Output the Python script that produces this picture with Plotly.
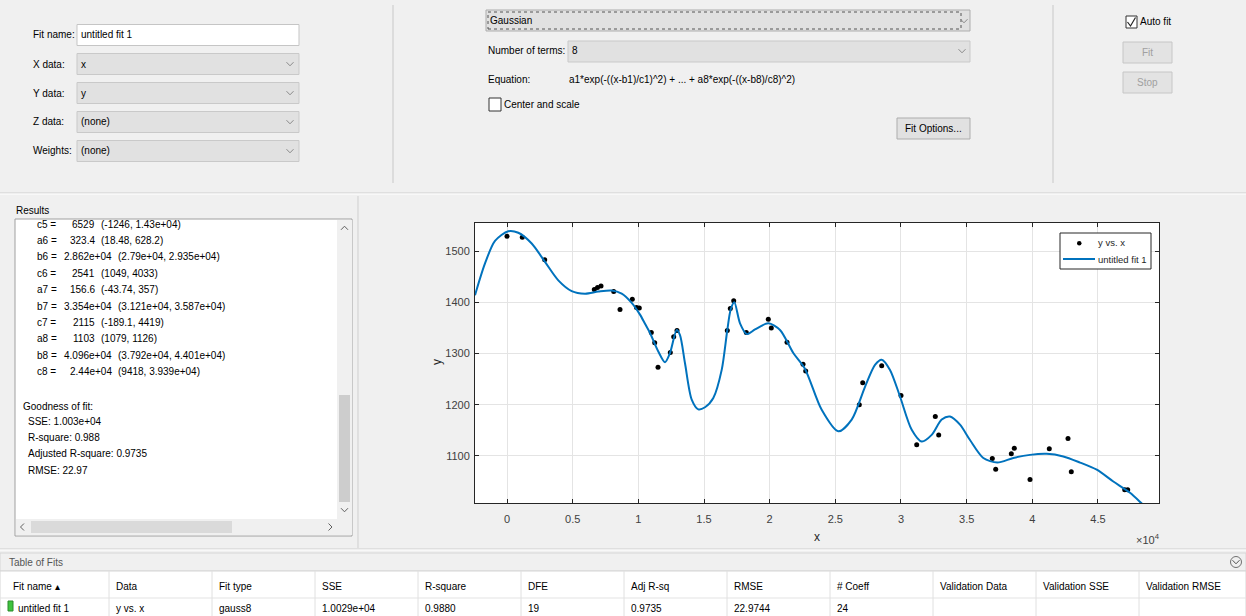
import plotly.graph_objects as go

# ---------------- data ----------------
data_x = [0, 1165, 2871, 6647, 6891, 7158, 8125, 8604, 9541, 9861, 10074,
          10988, 11247, 11498, 12434, 12693, 12945, 16775, 17003, 17262, 18222,
          19896, 20125, 21320, 22539, 22744, 26826, 27085, 28531, 30001, 31196,
          32613, 32871, 36953, 37212, 38400, 38628, 39823, 41293, 42717, 42968,
          47034, 47263]
data_y = [1529, 1527, 1483, 1425, 1429, 1432, 1421, 1386, 1406, 1390, 1389,
          1341, 1321, 1273, 1302, 1333, 1345, 1345, 1388, 1403, 1341,
          1367, 1350, 1322, 1279, 1266, 1200, 1243, 1276, 1218, 1122,
          1177, 1141, 1095, 1074, 1104, 1115, 1054, 1114, 1134, 1069,
          1034, 1034]

fit_x = [-2437, -1675, -914, 99, 860, 1881, 2893, 3906, 4927, 5939, 6952,
         7972, 8734, 9495, 10127, 10508, 10889, 11521, 12031, 12412, 12922,
         13173, 13554, 14064, 14567, 15077, 15709, 16348, 16775, 17033, 17308,
         17742, 18252, 18884, 19896, 20787, 21800, 22691, 23962, 25226, 26247,
         27260, 28021, 28531, 29163, 29925, 30816, 31577, 32338, 33100, 33732,
         34493, 35255, 36268, 37333, 38552, 39824, 41095, 42359, 43631, 44903,
         46166, 47438, 48253, 49000]
fit_y = [1414, 1476, 1520, 1539, 1536, 1515, 1479, 1443, 1422, 1417, 1421,
         1423, 1417, 1399, 1376, 1358, 1340, 1304, 1283, 1301, 1346,
         1336, 1281, 1210, 1191, 1195, 1213, 1268, 1346, 1386, 1400,
         1359, 1338, 1347, 1359, 1346, 1301, 1270, 1190, 1148, 1171,
         1235, 1278, 1288, 1268, 1216, 1151, 1128, 1141, 1171, 1177,
         1161, 1131, 1096, 1087, 1096, 1102, 1104, 1099, 1087, 1073,
         1050, 1028, 1009, 990]

x_ticks = [0, 5000, 10000, 15000, 20000, 25000, 30000, 35000, 40000, 45000]
x_tick_labels = ["0", "0.5", "1", "1.5", "2", "2.5", "3", "3.5", "4", "4.5"]
y_ticks = [1100, 1200, 1300, 1400, 1500]

series_names = ["y vs. x", "untitled fit 1"]

coef_names = ["c5", "a6", "b6", "c6", "a7", "b7", "c7", "a8", "b8", "c8"]
coef_vals = ["6529", "323.4", "2.862e+04", "2541", "156.6", "3.354e+04",
             "2115", "1103", "4.096e+04", "2.44e+04"]
coef_ci = ["(-1246, 1.43e+04)", "(18.48, 628.2)", "(2.79e+04, 2.935e+04)",
           "(1049, 4033)", "(-43.74, 357)", "(3.121e+04, 3.587e+04)",
           "(-189.1, 4419)", "(1079, 1126)", "(3.792e+04, 4.401e+04)",
           "(9418, 3.939e+04)"]
gof_lines = ["SSE: 1.003e+04", "R-square: 0.988",
             "Adjusted R-square: 0.9735", "RMSE: 22.97"]

table_headers = ["Fit name \u25b4", "Data", "Fit type", "SSE", "R-square", "DFE",
                 "Adj R-sq", "RMSE", "# Coeff", "Validation Data",
                 "Validation SSE", "Validation RMSE"]
table_row = ["untitled fit 1", "y vs. x", "gauss8", "1.0029e+04", "0.9880",
             "19", "0.9735", "22.9744", "24", "", "", ""]

input_labels = ["Fit name:", "X data:", "Y data:", "Z data:", "Weights:"]
input_values = ["untitled fit 1", "x", "y", "(none)", "(none)"]

# ---------------- helpers ----------------
W, H = 1246, 616
UI = "Liberation Sans, Arial, sans-serif"
UIS = 10


def X(px):
    return px / W


def Y(py):
    return 1 - py / H


shapes = []
annotations = []


def rect(x0, y0, x1, y1, fill, line="#adadad", width=1, dash="solid"):
    shapes.append(dict(type="rect", xref="paper", yref="paper",
                       x0=X(x0), x1=X(x1), y0=Y(y1), y1=Y(y0),
                       fillcolor=fill, line=dict(color=line, width=width, dash=dash),
                       layer="above"))


def hline(x0, x1, y, color="#d0d0d0", width=1):
    shapes.append(dict(type="line", xref="paper", yref="paper",
                       x0=X(x0), x1=X(x1), y0=Y(y), y1=Y(y),
                       line=dict(color=color, width=width)))


def vline(x, y0, y1, color="#d0d0d0", width=1):
    shapes.append(dict(type="line", xref="paper", yref="paper",
                       x0=X(x), x1=X(x), y0=Y(y0), y1=Y(y1),
                       line=dict(color=color, width=width)))


def path(points, color="#808080", width=1):
    d = "M " + " L ".join(f"{X(px)},{Y(py)}" for px, py in points)
    shapes.append(dict(type="path", xref="paper", yref="paper", path=d,
                       line=dict(color=color, width=width)))


def chevron(x, y, up=False, color="#8a8a8a"):
    s = -1 if up else 1
    path([(x - 3.5, y - 1.8 * s), (x, y + 1.8 * s), (x + 3.5, y - 1.8 * s)], color=color)


def text(x, y, s, size=UIS, color="#000000", anchor="left", family=UI, angle=0):
    annotations.append(dict(x=X(x), y=Y(y), xref="paper", yref="paper", text=s,
                            showarrow=False, xanchor=anchor, yanchor="middle",
                            textangle=angle,
                            font=dict(size=size, color=color, family=family),
                            borderpad=0))


# ---------------- top panel ----------------
hline(0, W, 193, "#cfcfcf")
hline(0, W, 194, "#ffffff")
vline(393, 5, 183, "#c8c8c8")
vline(1053, 5, 183, "#c8c8c8")

row_y = [35, 64, 93, 122, 151]
for i, (lab, val) in enumerate(zip(input_labels, input_values)):
    cy = row_y[i]
    text(32, cy, lab)
    if i == 0:
        rect(77, cy - 10.5, 299, cy + 10.5, "#ffffff", "#c5c5c5")
    else:
        rect(77, cy - 10.5, 299, cy + 10.5, "#e1e1e1", "#c9c9c9")
        chevron(290, cy)
    text(80, cy, val)

# fit type panel
rect(486, 10, 970, 31, "#e1e1e1", "#adadad")
rect(488, 12, 961, 29, "rgba(0,0,0,0)", "#555555", dash="dot")
chevron(964, 21)
text(489, 21, "Gaussian")
text(487, 51, "Number of terms:")
rect(568, 41, 970, 62, "#e1e1e1", "#c9c9c9")
chevron(962, 51)
text(571, 51, "8")
text(487, 79, "Equation:")
text(568, 79, "a1*exp(-((x-b1)/c1)^2) + ... + a8*exp(-((x-b8)/c8)^2)")
rect(489, 98, 501, 111, "#ffffff", "#333333")
text(503, 105, "Center and scale")
rect(897, 118, 970, 139, "#e1e1e1", "#adadad")
text(933.5, 128.5, "Fit Options...", anchor="center")

# auto fit panel
rect(1126, 16, 1137, 28, "#ffffff", "#333333")
path([(1127.5, 22), (1130.5, 26), (1135.5, 17.5)], color="#222222", width=1.2)
text(1139, 22, "Auto fit")
rect(1123, 42, 1172, 63, "#e3e3e3", "#c6c6c6")
text(1147.5, 52.5, "Fit", color="#a0a0a0", anchor="center")
rect(1123, 72, 1172, 93, "#e3e3e3", "#c6c6c6")
text(1147.5, 82.5, "Stop", color="#a0a0a0", anchor="center")

# ---------------- results panel ----------------
vline(358, 196, 548, "#cfcfcf")
text(15, 211, "Results")
rect(15, 219, 352, 536, "#ffffff", "#a0a0a0")
# vertical scrollbar
rect(337, 220, 352, 519, "#f0f0f0", "rgba(0,0,0,0)", width=0)
rect(339, 395, 350, 502, "#cdcdcd", "rgba(0,0,0,0)", width=0)
chevron(344.5, 228, up=True, color="#606060")
chevron(344.5, 510, color="#606060")
# horizontal scrollbar
rect(16, 519, 337, 535, "#f0f0f0", "rgba(0,0,0,0)", width=0)
rect(31, 521, 232, 533, "#dadada", "rgba(0,0,0,0)", width=0)
path([(24, 523.5), (20.5, 527), (24, 530.5)], color="#606060")
path([(328.5, 523.5), (332, 527), (328.5, 530.5)], color="#606060")
rect(337, 519, 352, 535, "#f0f0f0", "rgba(0,0,0,0)", width=0)

for i, (nm, v, ci) in enumerate(zip(coef_names, coef_vals, coef_ci)):
    cy = 224 + i * 16.4
    text(36, cy, nm + " =")
    vend = 113 if "e" in v else 96
    text(vend, cy, v, anchor="right")
    text(vend + 4, cy, ci)

text(22, 406, "Goodness of fit:")
for i, s in enumerate(gof_lines):
    text(27, 421 + i * 16.4, s)

# ---------------- table of fits ----------------
hline(0, W, 549, "#cfcfcf")
hline(0, W, 550, "#ffffff")
rect(0, 553, W, 571, "#f0f0f0", "#d6d6d6")
text(8, 562, "Table of Fits", color="#555555")
shapes.append(dict(type="circle", xref="paper", yref="paper",
                   x0=X(1230.5), x1=X(1241.5), y0=Y(567.5), y1=Y(556.5),
                   line=dict(color="#707070", width=1), fillcolor="#f0f0f0"))
chevron(1236, 562, color="#505050")
rect(0, 571, W, 617, "#ffffff", "#d6d6d6")
hline(0, W, 598, "#e3e3e3")
col_x = [0, 109, 212, 315, 418, 521, 624, 727, 830, 933, 1036, 1139]
for cx in col_x[1:]:
    vline(cx, 571, 616, "#e0e0e0")
for cx, h, v in zip(col_x, table_headers, table_row):
    text(cx + (12 if cx == 0 else 6), 586, h)
    if v:
        text(cx + (17 if cx == 0 else 6), 608, v)
rect(8, 601, 13, 611, "#3ec43e", "#2a8a2a")

# ---------------- plot ----------------
ax_left, ax_right, ax_top, ax_bot = 475, 1159, 223, 503
AXF = "Liberation Sans, Arial"
text(437, 362, "y", size=12, color="#262626", anchor="center", family=AXF, angle=-90)
text(817, 537, "x", size=12, color="#262626", anchor="center", family=AXF)
text(1135, 539, "\u00d710<sup>4</sup>", size=11, color="#404040", family=AXF)

# legend box (MATLAB style)
rect(1060, 233, 1151, 269, "#ffffff", "#262626")
shapes.append(dict(type="circle", xref="paper", yref="paper",
                   x0=X(1077), x1=X(1081.5), y0=Y(245.5), y1=Y(241),
                   line=dict(color="black", width=0), fillcolor="black"))
shapes.append(dict(type="line", xref="paper", yref="paper",
                   x0=X(1063), x1=X(1095), y0=Y(259), y1=Y(259),
                   line=dict(color="#0072BD", width=2)))
text(1097, 243, series_names[0], size=9.5, color="#262626", family=AXF)
text(1097, 259, series_names[1], size=9.5, color="#262626", family=AXF)

fig = go.Figure()
fig.add_trace(go.Scatter(x=data_x, y=data_y, mode="markers", name=series_names[0],
                         marker=dict(color="black", size=5)))
fig.add_trace(go.Scatter(x=fit_x, y=fit_y, mode="lines", name=series_names[1],
                         line=dict(color="#0072BD", width=2, shape="spline", smoothing=0.8)))

axis_common = dict(showline=True, linecolor="#262626", linewidth=1, mirror="ticks",
                   ticks="inside", ticklen=4, tickcolor="#262626",
                   showgrid=True, gridcolor="#e4e4e4", gridwidth=1, zeroline=False,
                   tickfont=dict(size=11, color="#404040", family=AXF))

fig.update_layout(
    width=W, height=H, margin=dict(l=0, r=0, t=0, b=0),
    paper_bgcolor="#f0f0f0", plot_bgcolor="#ffffff",
    xaxis=dict(domain=[X(ax_left), X(ax_right)], range=[-2437, 49646],
               tickvals=x_ticks, ticktext=x_tick_labels, ticklabelstandoff=6,
               **axis_common),
    yaxis=dict(domain=[Y(ax_bot), Y(ax_top)], range=[1008, 1555],
               tickvals=y_ticks, ticklabelstandoff=2, **axis_common),
    showlegend=False,
    shapes=shapes, annotations=annotations,
)

fig.write_html("out.html", config={"displayModeBar": False},
               post_script="document.body.style.margin='0';document.body.style.overflow='hidden';")
